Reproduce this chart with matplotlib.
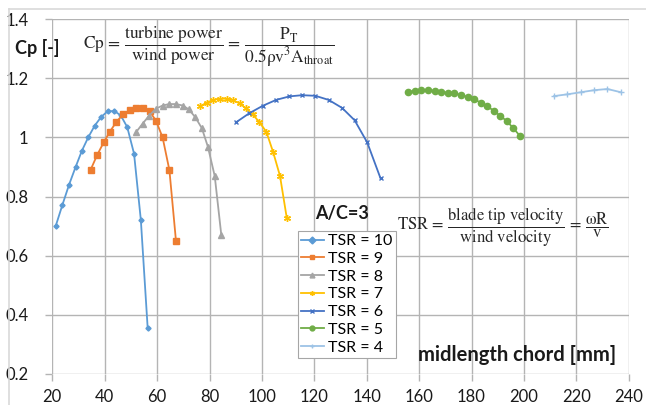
import matplotlib
matplotlib.use("Agg")
import matplotlib.pyplot as plt
from matplotlib.lines import Line2D

plt.rcParams['font.family'] = ['Lato', 'DejaVu Sans']
plt.rcParams['mathtext.fontset'] = 'stix'

# ---- data ----
tsr10_x = [21.3, 23.8, 26.4, 28.9, 31.3, 33.7, 36.2, 38.7, 41.2, 43.7, 46.1, 48.6, 51.2, 53.8, 56.4]
tsr10_y = [0.70, 0.77, 0.84, 0.90, 0.955, 1.00, 1.04, 1.07, 1.089, 1.089, 1.075, 1.035, 0.945, 0.72, 0.355]

tsr9_x = [34.6, 37.1, 39.6, 42.0, 44.5, 47.0, 49.6, 52.1, 54.6, 57.2, 59.6, 62.1, 64.7, 67.2]
tsr9_y = [0.89, 0.94, 0.983, 1.02, 1.053, 1.078, 1.093, 1.10, 1.10, 1.088, 1.056, 1.00, 0.889, 0.65]

tsr8_x = [52.0, 54.5, 57.0, 59.5, 62.1, 64.6, 67.2, 69.8, 72.1, 74.6, 77.1, 79.4, 82.0, 84.5]
tsr8_y = [1.018, 1.047, 1.074, 1.097, 1.108, 1.113, 1.113, 1.108, 1.095, 1.068, 1.031, 0.968, 0.869, 0.67]

tsr7_x = [76.5, 79.0, 81.5, 84.0, 86.5, 89.0, 91.5, 94.0, 96.5, 99.0, 101.7, 104.3, 106.9, 109.5]
tsr7_y = [1.106, 1.118, 1.127, 1.131, 1.131, 1.126, 1.115, 1.098, 1.078, 1.052, 1.019, 0.95, 0.87, 0.727]

tsr6_x = [90.1, 95.2, 100.3, 105.4, 110.5, 115.3, 120.4, 125.5, 130.6, 135.4, 140.2, 145.3]
tsr6_y = [1.051, 1.082, 1.107, 1.127, 1.139, 1.143, 1.141, 1.127, 1.10, 1.058, 0.983, 0.861]

tsr5_x = [155.9, 158.4, 160.9, 163.4, 165.9, 168.4, 170.9, 173.5, 176.0, 178.5, 181.0, 183.5, 186.0, 188.5, 191.0, 193.5, 196.0, 198.6]
tsr5_y = [1.154, 1.158, 1.160, 1.160, 1.158, 1.155, 1.151, 1.149, 1.144, 1.137, 1.129, 1.118, 1.106, 1.090, 1.073, 1.055, 1.031, 1.004]

tsr4_x = [211.5, 216.6, 221.7, 226.8, 231.9, 237.0]
tsr4_y = [1.140, 1.146, 1.153, 1.160, 1.164, 1.153]

labels = ['TSR = 10', 'TSR = 9', 'TSR = 8', 'TSR = 7', 'TSR = 6', 'TSR = 5', 'TSR = 4']
x_ticks = [20, 40, 60, 80, 100, 120, 140, 160, 180, 200, 220, 240]
y_ticks = [0.2, 0.4, 0.6, 0.8, 1.0, 1.2, 1.4]
y_ticklabels = ['0.2', '0.4', '0.6', '0.8', '1', '1.2', '1.4']

series = [
    (tsr10_x, tsr10_y, '#5B9BD5', 'D', 2.6),
    (tsr9_x, tsr9_y, '#ED7D31', 's', 4.2),
    (tsr8_x, tsr8_y, '#A5A5A5', '^', 4.2),
    (tsr7_x, tsr7_y, '#FFC000', (6, 2, 0), 5.0),
    (tsr6_x, tsr6_y, '#4472C4', 'x', 3.5),
    (tsr5_x, tsr5_y, '#70AD47', 'o', 4.5),
    (tsr4_x, tsr4_y, '#9DC3E6', '+', 5.0),
]

W, H = 646, 405
fig = plt.figure(figsize=(W / 100, H / 100), dpi=100)
ax = fig.add_axes([52.3 / W, (H - 373.7) / H, (628.7 - 52.3) / W, (373.7 - 19.3) / H])

grid_c = '#B4B4B4'
for (xs, ys, c, m, ms), lab in zip(series, labels):
    ax.plot(xs, ys, color=c, lw=1.3, marker=m, ms=ms, mec=c, mfc=c, mew=1.0, label=lab, zorder=3)

ax.set_xlim(20, 240)
ax.set_ylim(0.2, 1.4)
ax.set_xticks(x_ticks)
ax.set_yticks(y_ticks)
ax.set_yticklabels(y_ticklabels)
ax.grid(True, color=grid_c, lw=1.0)
ax.set_axisbelow(True)
for s in ax.spines.values():
    s.set_visible(False)
ax.tick_params(axis='both', direction='out', length=5, color=grid_c, width=1.0,
               labelsize=12, labelcolor='#1a1a1a')
ax.tick_params(axis='y', pad=12)
ax.tick_params(axis='x', pad=6)

# texts
fig.text(15 / W, 1 - 48 / H, 'Cp [-]', fontsize=13, fontweight='bold', va='center', ha='left', color='#1a1a1a')
fig.text(83 / W, 1 - 46 / H,
         r'$\mathrm{Cp}\,=\,\dfrac{\mathrm{turbine\ power}}{\mathrm{wind\ power}}\,=\,\dfrac{\mathrm{P_T}}{0.5\mathrm{\rho} \mathrm{v}^3 \mathrm{A}_{\mathrm{throat}}}$',
         fontsize=12.5, va='center', ha='left', color='#262626')
fig.text(397 / W, 1 - 227 / H,
         r'$\mathrm{TSR}\,=\,\dfrac{\mathrm{blade\ tip\ velocity}}{\mathrm{wind\ velocity}}\,=\,\dfrac{\mathrm{\omega R}}{\mathrm{v}}$',
         fontsize=12, va='center', ha='left', color='#262626')
fig.text(342 / W, 1 - 214 / H, 'A/C=3', fontsize=13, fontweight='bold', va='center', ha='center', color='#1a1a1a')
fig.text(517 / W, 1 - 355 / H, 'midlength chord [mm]', fontsize=14.5, fontweight='bold', va='center', ha='center', color='#1a1a1a')

leg = ax.legend(loc='upper left', bbox_to_anchor=((298 - 52.3) / (628.7 - 52.3), 1 - (231 - 19.3) / (373.7 - 19.3)),
                fontsize=11.5, frameon=True, fancybox=False, edgecolor='#A6A6A6', framealpha=1,
                handlelength=1.4, handletextpad=0.3, labelspacing=0.22, borderpad=0.2, borderaxespad=0)
leg.get_frame().set_linewidth(0.8)
for h in leg.get_lines():
    h.set_markersize(3.5)

# chart area border (left & top)
fig.add_artist(Line2D([9 / W, 9 / W], [0, 1 - 9 / H], color='#D9D9D9', lw=1.2))
fig.add_artist(Line2D([9 / W, 1], [1 - 9 / H, 1 - 9 / H], color='#D9D9D9', lw=1.2))

fig.savefig('out.png', dpi=100)
